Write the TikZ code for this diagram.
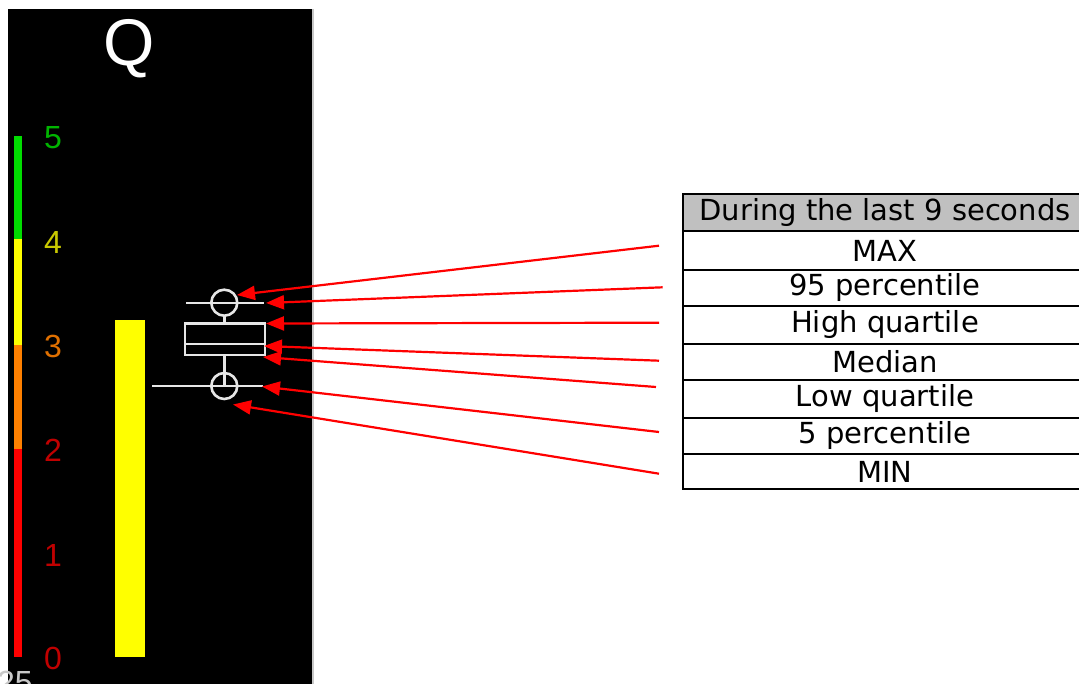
\documentclass[tikz,border=0pt]{standalone}
\usepackage{fontspec}
\setmainfont{DejaVu Sans}
\newfontfamily\arialfont{Liberation Sans}
\newfontfamily\tablefont{DejaVu Sans}
\usetikzlibrary{arrows.meta}
\definecolor{hdrgray}{HTML}{C0C0C0}
\definecolor{barGreen}{HTML}{00DD00}
\definecolor{barYellow}{HTML}{FFFF00}
\definecolor{barOrange}{HTML}{FF8000}
\definecolor{barRed}{HTML}{FF0000}
\definecolor{lblGreen}{HTML}{00B400}
\definecolor{lblYellow}{HTML}{C8C800}
\definecolor{lblOrange}{HTML}{E07000}
\definecolor{lblRed}{HTML}{C00000}
\definecolor{plotWhite}{HTML}{E6E6E6}
\definecolor{edgeGray}{HTML}{C8C8C8}
\begin{document}
\begin{tikzpicture}[x=1pt,y=-1pt,
  rowbox/.style={draw=black, line width=2pt, minimum width=404pt, inner sep=0pt,
     font=\tablefont\fontsize{29}{29}\selectfont, anchor=center},
  hdrbox/.style={rowbox, fill=hdrgray},
  pointer/.style={draw=red, line width=2.2pt, -{Triangle[length=18pt,width=14pt]}},
  plotline/.style={draw=plotWhite, line width=2.6pt},
  scalelbl/.style={font=\arialfont\fontsize{32}{32}\selectfont, anchor=center, inner sep=0pt}]
\useasboundingbox (0,0) rectangle (1079,684);
\fill[white] (0,0) rectangle (1079,684);
\begin{scope}
\clip (0,0) rectangle (1079,684);
% black panel
\fill[black] (8,9) rectangle (312,690);
\draw[edgeGray, line width=2pt] (313,9) -- (313,690);
% title
\node[white, font=\arialfont\fontsize{66}{66}\selectfont, anchor=base, inner sep=0pt] (qtitle) at (129.5,66) {Q};
% colour scale
\fill[barGreen] (13.5,136) rectangle (22,239);
\fill[barYellow] (13.5,239) rectangle (22,345);
\fill[barOrange] (13.5,345) rectangle (22,449);
\fill[barRed] (13.5,449) rectangle (22,657);
\node[scalelbl, lblGreen] (l5) at (53,137.5) {5};
\node[scalelbl, lblYellow] (l4) at (53,242.5) {4};
\node[scalelbl, lblOrange] (l3) at (53,346.5) {3};
\node[scalelbl, lblRed] (l2) at (53,450.5) {2};
\node[scalelbl, lblRed] (l1) at (53,555) {1};
\node[scalelbl, lblRed] (l0) at (53,658) {0};
\node[font=\arialfont\fontsize{32}{32}\selectfont, text=edgeGray, anchor=north west, inner sep=0pt] (cut) at (-3,671) {25};
% yellow bar
\fill[barYellow] (115,320) rectangle (145,657);
% box plot
\draw[plotline] (186,303) -- (264,303);
\draw[plotline] (224.3,302.7) circle (13);
\draw[plotline] (224.3,315.7) -- (224.3,323.5);
\draw[plotline] (185,323.5) rectangle (265,355);
\draw[plotline] (185,344) -- (265,344);
\draw[plotline] (224.3,355) -- (224.3,386);
\draw[plotline] (224.3,386) circle (13);
\draw[plotline] (152,386) -- (263,386);
% table
\node[hdrbox, minimum height=36.7pt] (hdr) at (885,212.65) {During the last 9 seconds};
\node[rowbox, minimum height=39pt] (rmax) at (885,250.5) {MAX};
\node[rowbox, minimum height=36pt] (r95) at (885,288) {95 percentile};
\node[rowbox, minimum height=38pt] (rhq) at (885,325) {High quartile};
\node[rowbox, minimum height=36pt] (rmed) at (885,362) {Median};
\node[rowbox, minimum height=37.7pt] (rlq) at (885,398.85) {Low quartile};
\node[rowbox, minimum height=36.3pt] (r5) at (885,435.85) {5 percentile};
\node[rowbox, minimum height=35.3pt] (rmin) at (885,471.65) {MIN};
% pointers
\coordinate (tmax) at (659,245.7);
\coordinate (t95) at (662.7,287.3);
\coordinate (thq) at (659,322.7);
\coordinate (tmed) at (659,360.7);
\coordinate (tlq) at (656,387);
\coordinate (t5) at (659,432);
\coordinate (tmin) at (659,473.7);
\coordinate (pmax) at (237,295);
\coordinate (p95) at (266,303);
\coordinate (phq) at (266,323.5);
\coordinate (pmed) at (264,346);
\coordinate (plq) at (263,357);
\coordinate (p5) at (262,386.5);
\coordinate (pmin) at (233,404.5);
\draw[pointer] (tmax) -- (pmax);
\draw[pointer] (t95) -- (p95);
\draw[pointer] (thq) -- (phq);
\draw[pointer] (tmed) -- (pmed);
\draw[pointer] (tlq) -- (plq);
\draw[pointer] (t5) -- (p5);
\draw[pointer] (tmin) -- (pmin);
\end{scope}
\end{tikzpicture}
\end{document}
